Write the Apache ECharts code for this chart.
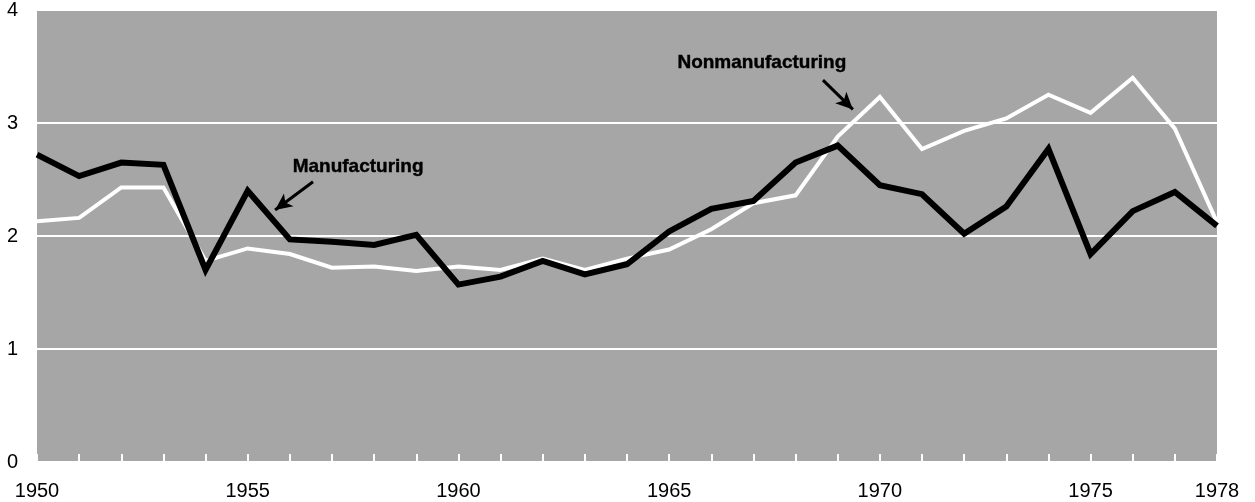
<!DOCTYPE html>
<html>
<head>
<meta charset="utf-8">
<style>
  html, body { margin: 0; padding: 0; background: #fff; }
  #chart { width: 1255px; height: 502px; }
</style>
<script src="https://cdn.jsdelivr.net/npm/echarts@6/dist/echarts.min.js"></script>
</head>
<body>
<div id="chart"></div>
<script>
const years = [1950, 1951, 1952, 1953, 1954, 1955, 1956, 1957, 1958, 1959,
  1960, 1961, 1962, 1963, 1964, 1965, 1966, 1967, 1968, 1969,
  1970, 1971, 1972, 1973, 1974, 1975, 1976, 1977, 1978]
const manufacturing = [2.72, 2.53, 2.65, 2.63, 1.70, 2.40, 1.97, 1.95, 1.92, 2.01,
  1.57, 1.64, 1.78, 1.66, 1.75, 2.04, 2.24, 2.31, 2.65, 2.80,
  2.45, 2.37, 2.02, 2.26, 2.77, 1.84, 2.22, 2.39, 2.09]
const nonmanufacturing = [2.13, 2.16, 2.43, 2.43, 1.78, 1.89, 1.84, 1.72, 1.73, 1.69,
  1.73, 1.70, 1.80, 1.70, 1.80, 1.88, 2.06, 2.29, 2.36, 2.88,
  3.23, 2.77, 2.93, 3.04, 3.25, 3.09, 3.40, 2.95, 2.12]
const yearLabels = [1950, 1955, 1960, 1965, 1970, 1975, 1978]
const yTicks = [0, 1, 2, 3, 4]

// annotation anchors in data space: [year, value]
const manuLabel = [1957.62, 2.61]
const manuArrow = [[1956.55, 2.48], [1955.65, 2.23]]
const nonLabel = [1967.2, 3.53]
const nonArrow = [[1968.65, 3.38], [1969.36, 3.12]]

const pair = (vals) => years.map((y, i) => [y, vals[i]])

function annotate (label, arrow) {
  return {
    markPoint: {
      symbol: 'circle',
      symbolSize: 0,
      silent: true,
      label: {
        show: true,
        position: 'inside',
        formatter: '{b}',
        color: '#000',
        fontFamily: 'Liberation Sans',
        fontWeight: 'bold',
        fontSize: 19,
        textBorderColor: '#000',
        textBorderWidth: 0.4
      },
      data: [{ name: label.name, coord: label.at }]
    },
    markLine: {
      silent: true,
      animation: false,
      symbol: ['none', 'arrow'],
      symbolSize: [12, 17],
      lineStyle: { color: '#000', width: 3, type: 'solid' },
      label: { show: false },
      data: [[{ coord: arrow[0] }, { coord: arrow[1] }]]
    }
  }
}

const chartDom = echarts.init(document.getElementById('chart'))
const option = {
  animation: false,
  backgroundColor: '#fff',
  grid: {
    left: 37,
    right: 38,
    top: 7,
    bottom: 40,
    show: true,
    backgroundColor: '#a6a6a6',
    borderWidth: 0
  },
  xAxis: {
    type: 'value',
    min: 1950,
    max: 1978,
    interval: 1,
    axisLine: { show: false },
    axisTick: {
      show: true,
      inside: true,
      length: 8,
      lineStyle: { color: '#fff', width: 2 }
    },
    splitLine: { show: false },
    axisLabel: {
      margin: 19,
      color: '#000',
      fontFamily: 'Liberation Sans',
      fontSize: 20,
      showMinLabel: true,
      showMaxLabel: true,
      formatter: (v) => yearLabels.includes(v) ? String(v) : ''
    }
  },
  yAxis: {
    type: 'value',
    min: 0,
    max: 4,
    interval: 1,
    axisLine: { show: false },
    axisTick: { show: false },
    splitLine: { show: true, lineStyle: { color: '#fff', width: 2 } },
    axisLabel: {
      margin: 19,
      color: '#000',
      fontFamily: 'Liberation Sans',
      fontSize: 20,
      formatter: (v) => yTicks.includes(v) ? String(v) : ''
    }
  },
  series: [
    Object.assign({
      name: 'Nonmanufacturing',
      type: 'line',
      data: pair(nonmanufacturing),
      showSymbol: false,
      lineStyle: { color: '#fff', width: 4, join: 'miter' },
      z: 2
    }, annotate({ name: 'Nonmanufacturing', at: nonLabel }, nonArrow)),
    Object.assign({
      name: 'Manufacturing',
      type: 'line',
      data: pair(manufacturing),
      showSymbol: false,
      lineStyle: { color: '#000', width: 6, join: 'miter' },
      z: 3
    }, annotate({ name: 'Manufacturing', at: manuLabel }, manuArrow))
  ]
}
chartDom.setOption(option)
</script>
</body>
</html>
